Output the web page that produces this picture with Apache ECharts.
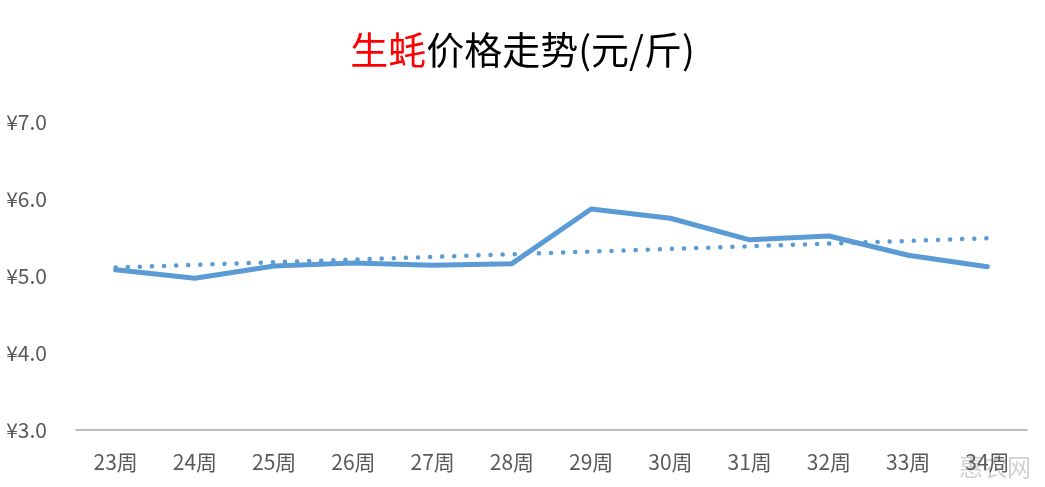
<!DOCTYPE html>
<html><head><meta charset="utf-8">
<script src="https://cdn.jsdelivr.net/npm/echarts@6/dist/echarts.min.js"></script>
<style>html,body{margin:0;padding:0;background:#fff}#c{width:1045px;height:487px}</style>
</head><body><div id="c"></div>
<script>
const categories = ['23周','24周','25周','26周','27周','28周','29周','30周','31周','32周','33周','34周'];
const prices = [5.08, 4.97, 5.13, 5.17, 5.14, 5.16, 5.87, 5.75, 5.47, 5.52, 5.27, 5.12];
const trendEnds = [['23周', 5.11], ['34周', 5.49]];
const yTicks = [3, 4, 5, 6, 7];

const chart = echarts.init(document.getElementById('c'), null, {renderer: 'canvas'});
chart.setOption({
  animation: false,
  backgroundColor: '#fff',
  title: {
    text: '{r|生蚝}{k|价格走势(元/斤)}',
    left: 'center', top: 26,
    textStyle: {
      rich: {
        r: {color: '#FF0000', fontSize: 38, fontWeight: 'normal', fontFamily: 'Noto Sans CJK SC'},
        k: {color: '#000000', fontSize: 38, fontWeight: 'normal', fontFamily: 'Noto Sans CJK SC'}
      }
    }
  },
  grid: {left: 76, right: 18, top: 122, bottom: 57, containLabel: false},
  xAxis: {
    type: 'category', data: categories, boundaryGap: true,
    axisLine: {lineStyle: {color: '#A6A6A6', width: 1.5}},
    axisTick: {show: false},
    axisLabel: {color: '#595959', fontSize: 21, margin: 22, fontFamily: 'Noto Sans CJK SC'}
  },
  yAxis: {
    type: 'value', min: yTicks[0], max: yTicks[yTicks.length - 1], interval: 1,
    axisLine: {show: false}, axisTick: {show: false}, splitLine: {show: false},
    axisLabel: {color: '#595959', fontSize: 21, margin: 29, fontFamily: 'Noto Sans CJK SC',
      formatter: v => '¥' + v.toFixed(1)}
  },
  series: [
    {
      type: 'line', data: prices, symbol: 'none',
      lineStyle: {color: '#5B9BD5', width: 5, cap: 'round', join: 'round'}
    },
    {
      type: 'line', data: trendEnds, symbol: 'none',
      lineStyle: {color: '#5B9BD5', width: 4.5, type: [0.1, 12], cap: 'round'}
    }
  ],
  graphic: [{
    type: 'text', right: 14, bottom: 8,
    style: {text: '惠农网', fill: 'rgba(150,150,150,0.45)', fontSize: 24, fontFamily: 'Noto Sans CJK SC'}
  }]
});
</script></body></html>
